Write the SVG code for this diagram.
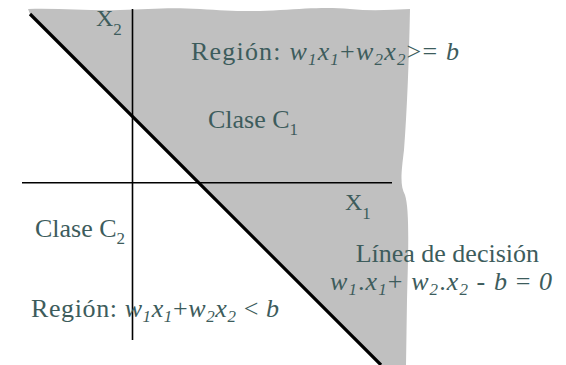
<svg xmlns="http://www.w3.org/2000/svg" width="566" height="365" viewBox="0 0 566 365">
  <style>
    .t { font-family: "Liberation Serif", "Times New Roman", serif; font-size: 26px; fill: #3d5c5c; }
    .ax { font-size: 24px; }
    .i { font-style: italic; }
    .s { font-size: 17px; }
    .axis { stroke: #000; stroke-width: 1.6; fill: none; }
    .dec { stroke: #000; stroke-width: 3.2; fill: none; stroke-linecap: butt; }
  </style>
  <rect width="566" height="365" fill="#ffffff"/>
  <g id="region-c1">
    <path d="M28,9 C60,8 90,11 120,10 C150,9 170,7 200,9 C230,11 250,12 280,10 C310,8 330,7 350,9 C370,11 390,10 410,9 C409,60 407,110 404,150 C401,175 400,185 405,195 C410,210 408,260 407,300 L406,365 L380,365 L30,14 Z" fill="#c0c0c0"/>
  </g>
  <g id="connectors">
    <line class="axis" x1="132.5" y1="9" x2="132.5" y2="340"/>
    <line class="axis" x1="22" y1="182.7" x2="392" y2="182.7"/>
    <line class="dec" x1="30" y1="14" x2="381" y2="365"/>
  </g>
  <g id="label-x2">
    <text class="t ax" x="96" y="26">X<tspan class="s" dy="9">2</tspan></text>
  </g>
  <g id="label-region-c1">
    <text class="t" x="191" y="60" textLength="268" lengthAdjust="spacing">Región: <tspan class="i">w</tspan><tspan class="s i" dy="5">1</tspan><tspan class="i" dy="-5">x</tspan><tspan class="s i" dy="5">1</tspan><tspan dy="-5">+</tspan><tspan class="i">w</tspan><tspan class="s i" dy="5">2</tspan><tspan class="i" dy="-5">x</tspan><tspan class="s i" dy="5">2</tspan><tspan dy="-5">&gt;= </tspan><tspan class="i">b</tspan></text>
  </g>
  <g id="label-clase-c1">
    <text class="t" x="208" y="128">Clase C<tspan class="s" dy="7">1</tspan></text>
  </g>
  <g id="label-x1">
    <text class="t ax" x="345" y="210">X<tspan class="s" dy="9">1</tspan></text>
  </g>
  <g id="label-clase-c2">
    <text class="t" x="35" y="237">Clase C<tspan class="s" dy="7">2</tspan></text>
  </g>
  <g id="label-decision">
    <text class="t" x="539" y="262" text-anchor="end">Línea de decisión</text>
    <text class="t" x="330" y="290" textLength="222" lengthAdjust="spacing"><tspan class="i">w</tspan><tspan class="s i" dy="5">1</tspan><tspan dy="-5">.</tspan><tspan class="i">x</tspan><tspan class="s i" dy="5">1</tspan><tspan dy="-5">+ </tspan><tspan class="i">w</tspan><tspan class="s i" dy="5">2</tspan><tspan dy="-5">.</tspan><tspan class="i">x</tspan><tspan class="s i" dy="5">2</tspan><tspan dy="-5"> - </tspan><tspan class="i">b</tspan> = <tspan class="i">0</tspan></text>
  </g>
  <g id="label-region-c2">
    <text class="t" x="31" y="317" textLength="248" lengthAdjust="spacing">Región: <tspan class="i">w</tspan><tspan class="s i" dy="5">1</tspan><tspan class="i" dy="-5">x</tspan><tspan class="s i" dy="5">1</tspan><tspan dy="-5">+</tspan><tspan class="i">w</tspan><tspan class="s i" dy="5">2</tspan><tspan class="i" dy="-5">x</tspan><tspan class="s i" dy="5">2</tspan><tspan dy="-5"> &lt; </tspan><tspan class="i">b</tspan></text>
  </g>
</svg>
